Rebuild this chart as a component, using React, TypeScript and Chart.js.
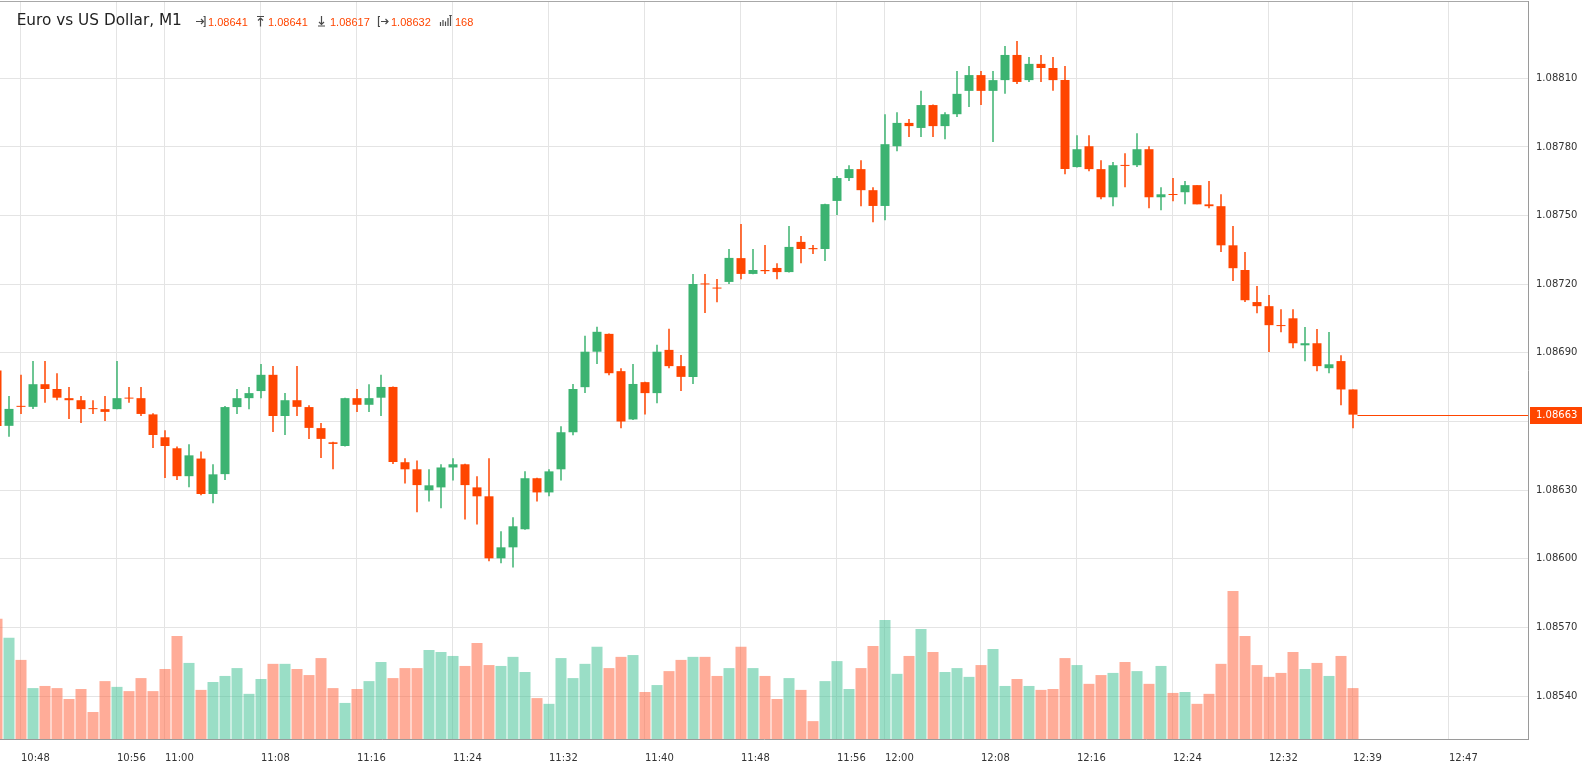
import { useEffect, useRef } from "react";
import { Chart, registerables } from "chart.js";

Chart.register(...registerables);

// ---------- data ----------
const TIMES = [
  "10:46","10:47","10:48","10:49","10:50","10:51","10:52","10:53","10:54","10:55",
  "10:56","10:57","10:58","10:59","11:00","11:01","11:02","11:03","11:04","11:05",
  "11:06","11:07","11:08","11:09","11:10","11:11","11:12","11:13","11:14","11:15",
  "11:16","11:17","11:18","11:19","11:20","11:21","11:22","11:23","11:24","11:25",
  "11:26","11:27","11:28","11:29","11:30","11:31","11:32","11:33","11:34","11:35",
  "11:36","11:37","11:38","11:39","11:40","11:41","11:42","11:43","11:44","11:45",
  "11:46","11:47","11:48","11:49","11:50","11:51","11:52","11:53","11:54","11:55",
  "11:56","11:57","11:58","11:59","12:00","12:01","12:02","12:03","12:04","12:05",
  "12:06","12:07","12:08","12:09","12:10","12:11","12:12","12:13","12:14","12:15",
  "12:16","12:17","12:18","12:19","12:20","12:21","12:22","12:23","12:24","12:25",
  "12:26","12:27","12:28","12:29","12:30","12:31","12:32","12:33","12:34","12:35",
  "12:36","12:37","12:38","12:39",
];

const OPEN = [
  1.086823,1.086581,1.086666,1.086664,1.086763,1.086742,1.086702,1.086693,1.086656,1.086654,
  1.086654,1.086702,1.086702,1.086631,1.086531,1.086483,1.086361,1.086438,1.086283,1.086370,
  1.086663,1.086702,1.086733,1.086804,1.086624,1.086693,1.086663,1.086571,1.086509,1.086493,
  1.086702,1.086673,1.086704,1.086751,1.086422,1.086391,1.086299,1.086312,1.086399,1.086413,
  1.086312,1.086273,1.086002,1.086050,1.086129,1.086352,1.086290,1.086391,1.086553,1.086750,
  1.086905,1.086983,1.086820,1.086609,1.086772,1.086724,1.086913,1.086842,1.086795,1.087203,
  1.087185,1.087210,1.087314,1.087245,1.087262,1.087271,1.087253,1.087385,1.087358,1.087354,
  1.087564,1.087664,1.087703,1.087611,1.087542,1.087803,1.087905,1.087883,1.087983,1.087891,
  1.087943,1.088045,1.088114,1.088045,1.088092,1.088202,1.088092,1.088163,1.088145,1.088092,
  1.087712,1.087803,1.087703,1.087580,1.087720,1.087720,1.087790,1.087580,1.087593,1.087602,
  1.087633,1.087549,1.087541,1.087370,1.087262,1.087122,1.087104,1.087021,1.087051,1.086933,
  1.086942,1.086833,1.086864,1.086740,
];

const HIGH = [
  1.086833,1.086711,1.086804,1.086864,1.086864,1.086811,1.086751,1.086711,1.086693,1.086711,
  1.086864,1.086751,1.086751,1.086636,1.086562,1.086491,1.086500,1.086469,1.086413,1.086668,
  1.086742,1.086751,1.086851,1.086842,1.086724,1.086842,1.086671,1.086593,1.086512,1.086704,
  1.086742,1.086763,1.086804,1.086753,1.086439,1.086430,1.086391,1.086413,1.086439,1.086415,
  1.086361,1.086439,1.086120,1.086181,1.086382,1.086354,1.086391,1.086579,1.086764,1.086975,
  1.087014,1.086985,1.086833,1.086851,1.086774,1.086935,1.087005,1.086891,1.087245,1.087245,
  1.087223,1.087354,1.087463,1.087354,1.087371,1.087292,1.087454,1.087411,1.087371,1.087552,
  1.087673,1.087720,1.087742,1.087624,1.087943,1.087952,1.087922,1.088045,1.087985,1.087952,
  1.088132,1.088154,1.088132,1.088132,1.088241,1.088263,1.088193,1.088202,1.088193,1.088154,
  1.087851,1.087851,1.087742,1.087734,1.087772,1.087860,1.087803,1.087624,1.087664,1.087651,
  1.087633,1.087651,1.087593,1.087454,1.087341,1.087192,1.087153,1.087091,1.087091,1.087013,
  1.087004,1.086991,1.086890,1.086740,
];

const LOW = [
  1.086570,1.086533,1.086633,1.086655,1.086682,1.086693,1.086611,1.086593,1.086633,1.086602,
  1.086654,1.086682,1.086624,1.086484,1.086353,1.086344,1.086313,1.086278,1.086243,1.086344,
  1.086633,1.086654,1.086702,1.086554,1.086541,1.086624,1.086524,1.086440,1.086391,1.086491,
  1.086642,1.086642,1.086624,1.086414,1.086329,1.086203,1.086250,1.086221,1.086342,1.086172,
  1.086150,1.085989,1.085980,1.085962,1.086127,1.086250,1.086273,1.086342,1.086540,1.086724,
  1.086851,1.086802,1.086570,1.086607,1.086631,1.086680,1.086833,1.086733,1.086764,1.087074,
  1.087121,1.087201,1.087222,1.087243,1.087245,1.087222,1.087251,1.087292,1.087332,1.087301,
  1.087502,1.087651,1.087541,1.087471,1.087480,1.087781,1.087843,1.087843,1.087843,1.087834,
  1.087931,1.087974,1.087983,1.087821,1.088032,1.088075,1.088084,1.088084,1.088045,1.087681,
  1.087710,1.087694,1.087571,1.087541,1.087624,1.087712,1.087532,1.087523,1.087563,1.087549,
  1.087549,1.087532,1.087341,1.087214,1.087122,1.087073,1.086904,1.086990,1.086920,1.086863,
  1.086820,1.086811,1.086671,1.086570,
];

const CLOSE = [
  1.086580,1.086655,1.086664,1.086763,1.086742,1.086704,1.086693,1.086654,1.086654,1.086642,
  1.086702,1.086700,1.086633,1.086541,1.086493,1.086361,1.086452,1.086283,1.086369,1.086663,
  1.086702,1.086724,1.086804,1.086624,1.086693,1.086664,1.086572,1.086524,1.086502,1.086702,
  1.086673,1.086702,1.086751,1.086423,1.086391,1.086322,1.086321,1.086399,1.086413,1.086322,
  1.086273,1.086002,1.086050,1.086142,1.086352,1.086290,1.086382,1.086553,1.086742,1.086905,
  1.086992,1.086811,1.086600,1.086764,1.086724,1.086905,1.086842,1.086795,1.087201,1.087199,
  1.087181,1.087315,1.087245,1.087262,1.087257,1.087253,1.087363,1.087354,1.087353,1.087550,
  1.087664,1.087703,1.087611,1.087542,1.087812,1.087905,1.087891,1.087983,1.087891,1.087943,
  1.088032,1.088114,1.088045,1.088092,1.088202,1.088084,1.088163,1.088145,1.088092,1.087703,
  1.087790,1.087703,1.087580,1.087720,1.087717,1.087790,1.087580,1.087593,1.087590,1.087633,
  1.087549,1.087541,1.087370,1.087270,1.087130,1.087104,1.087021,1.087017,1.086942,1.086942,
  1.086842,1.086850,1.086740,1.086630,
];

const VOLUME = [
  397,334,261,168,175,168,132,165,89,191,
  172,158,201,158,231,340,251,162,188,208,
  234,149,198,248,248,231,211,267,168,119,
  165,191,254,201,234,234,294,287,274,241,
  317,244,241,271,221,135,116,267,201,248,
  304,234,271,277,155,178,224,261,271,271,
  208,234,304,234,208,132,201,162,59,191,
  257,165,234,307,393,215,274,363,287,221,
  234,205,244,297,175,198,175,162,165,267,
  244,182,211,218,254,224,182,241,152,155,
  116,149,248,488,340,244,205,218,287,231,
  251,208,274,168,
];

const X_TICK_LABELS = [
  "10:48","10:56","11:00","11:08","11:16","11:24","11:32","11:40","11:48",
  "11:56","12:00","12:08","12:16","12:24","12:32","12:39","12:47",
];

const PRICE_TICKS = [1.0854, 1.0857, 1.086, 1.0863, 1.0866, 1.0869, 1.0872, 1.0875, 1.0878, 1.0881];

const LAST_PRICE = 1.08663;
const TITLE = "Euro vs US Dollar, M1";
const HEADER_OPEN = "1.08641";
const HEADER_HIGH = "1.08641";
const HEADER_LOW = "1.08617";
const HEADER_CLOSE = "1.08632";
const HEADER_VOLUME = "168";

// ---------- styles ----------
const UP = "#3cb371";
const DOWN = "#ff4500";
const UP_VOL = "rgba(71,195,151,0.55)";
const DOWN_VOL = "rgba(255,104,68,0.55)";
const GRID = "#e4e4e4";
const AXIS = "#9a9a9a";
const TEXT = "#333333";
const FONT = "DejaVu Sans";

const toMin = (t: string) => {
  const [h, m] = t.split(":").map(Number);
  return h * 60 + m;
};

const lastPricePlugin = {
  id: "lastPrice",
  afterDatasetsDraw(chart: any) {
    const { ctx, chartArea, scales } = chart;
    const y = Math.round(scales.y.getPixelForValue(LAST_PRICE)) + 0.5;
    const lastX = scales.x.getPixelForValue(toMin(TIMES[TIMES.length - 1])) + 4.5;
    ctx.save();
    ctx.strokeStyle = DOWN;
    ctx.lineWidth = 1;
    ctx.beginPath();
    ctx.moveTo(lastX, y);
    ctx.lineTo(chartArea.right, y);
    ctx.stroke();
    ctx.restore();
  },
  afterDraw(chart: any) {
    const { ctx, chartArea, scales, width } = chart;
    const y = Math.round(scales.y.getPixelForValue(LAST_PRICE)) + 0.5;
    ctx.save();
    // top border
    ctx.strokeStyle = "#a8a8a8";
    ctx.lineWidth = 1;
    ctx.beginPath();
    ctx.moveTo(0, 1.5);
    ctx.lineTo(chartArea.right, 1.5);
    ctx.stroke();
    // price label
    ctx.fillStyle = DOWN;
    ctx.fillRect(chartArea.right + 2, y - 8.5, width - chartArea.right - 2, 17);
    ctx.fillStyle = "#ffffff";
    ctx.font = `10px "${FONT}"`;
    ctx.textAlign = "left";
    ctx.textBaseline = "middle";
    ctx.fillText(LAST_PRICE.toFixed(5), chartArea.right + 8, y);
    ctx.restore();
  },
};

const iconStyle = (left: number, top: number, w: number, h: number): any => ({
  position: "absolute",
  left,
  top,
  width: w,
  height: h,
});

const valueStyle = (left: number): any => ({
  position: "absolute",
  left,
  top: 16.7,
  fontFamily: "Liberation Sans",
  fontSize: 11,
  lineHeight: "11px",
  color: DOWN,
  whiteSpace: "nowrap",
});

export default function App() {
  const canvasRef = useRef<HTMLCanvasElement | null>(null);

  useEffect(() => {
    const canvas = canvasRef.current;
    if (!canvas) return;
    const xs = TIMES.map(toMin);
    const up = OPEN.map((o, i) => CLOSE[i] >= o);
    const xMin = toMin(X_TICK_LABELS[0]) - 1.75;
    const xMax = toMin(X_TICK_LABELS[0]) + 1507 / 12;

    const chart = new Chart(canvas, {
      type: "bar",
      data: {
        datasets: [
          {
            label: "body",
            data: xs.map((x, i) => ({ x, y: [OPEN[i], CLOSE[i]] })) as any,
            backgroundColor: up.map((u) => (u ? UP : DOWN)),
            barThickness: 9,
            minBarLength: 1,
            borderWidth: 0,
            inflateAmount: 0,
            grouped: false,
            yAxisID: "y",
            order: 0,
          } as any,
          {
            label: "wick",
            data: xs.map((x, i) => ({ x, y: [LOW[i], HIGH[i]] })) as any,
            backgroundColor: up.map((u) => (u ? UP : DOWN)),
            barThickness: 1.5,
            borderWidth: 0,
            inflateAmount: 0,
            grouped: false,
            yAxisID: "y",
            order: 1,
          } as any,
          {
            label: "volume",
            data: xs.map((x, i) => ({ x, y: VOLUME[i] })) as any,
            backgroundColor: up.map((u) => (u ? UP_VOL : DOWN_VOL)),
            barThickness: 11,
            borderWidth: 0,
            inflateAmount: 0,
            grouped: false,
            yAxisID: "yv",
            order: 2,
          } as any,
        ],
      },
      options: {
        animation: false,
        responsive: false,
        layout: { padding: { top: 1, left: 0, right: 0, bottom: 0 } },
        plugins: {
          legend: { display: false },
          tooltip: { enabled: false },
        },
        scales: {
          x: {
            type: "linear",
            min: xMin,
            max: xMax,
            bounds: "data",
            offset: false,
            grid: { color: GRID, offset: false, drawTicks: false },
            border: { color: AXIS },
            ticks: {
              autoSkip: false,
              maxRotation: 0,
              align: "start",
              padding: 13,
              color: TEXT,
              font: { family: FONT, size: 10 },
              callback: (_v: any, i: number) => X_TICK_LABELS[i],
            },
            afterBuildTicks: (s: any) => {
              s.ticks = X_TICK_LABELS.map((l) => ({ value: toMin(l) }));
            },
            afterFit: (s: any) => {
              s.height = 35;
              s.paddingLeft = 0;
              s.paddingRight = 0;
            },
          } as any,
          y: {
            type: "linear",
            position: "right",
            min: 1.0852123,
            max: 1.0884378,
            bounds: "data",
            grid: { color: GRID, drawTicks: false },
            border: { color: AXIS },
            ticks: {
              padding: 8,
              color: TEXT,
              font: { family: FONT, size: 10 },
              callback: (v: any) => Number(v).toFixed(5),
            },
            afterBuildTicks: (s: any) => {
              s.ticks = PRICE_TICKS.map((v) => ({ value: v }));
            },
            afterFit: (s: any) => {
              s.width = 54;
              s.paddingTop = 0;
              s.paddingBottom = 0;
            },
          } as any,
          yv: {
            type: "linear",
            display: false,
            min: 0,
            max: 2435,
          } as any,
        },
      },
      plugins: [lastPricePlugin],
    });
    return () => chart.destroy();
  }, []);

  const stroke = { stroke: "#4a4a4a", strokeWidth: 1.2, fill: "none" } as any;

  return (
    <div
      style={{
        position: "absolute",
        left: 0,
        top: 0,
        width: 1582,
        height: 774,
        background: "#ffffff",
        overflow: "hidden",
      }}
    >
      <canvas ref={canvasRef} width={1582} height={774} style={{ display: "block" }} />
      <span
        style={{
          position: "absolute",
          left: 16.7,
          top: 13.1,
          fontFamily: FONT,
          fontSize: 15.3,
          lineHeight: "15.3px",
          color: "#222222",
          whiteSpace: "nowrap",
        }}
      >
        {TITLE}
      </span>
      <svg style={iconStyle(195, 15, 11, 12)} viewBox="0 0 11 12">
        <path d="M1 6.5 H8.5 M6 4 L8.5 6.5 L6 9" {...stroke} />
        <path d="M8.5 1.5 H10 V11.5 H8.5" {...stroke} />
      </svg>
      <span style={valueStyle(208)}>{HEADER_OPEN}</span>
      <svg style={iconStyle(256, 15, 9, 12)} viewBox="0 0 9 12">
        <path d="M1 1.5 H8 M4.5 11.5 V3 M2 5.5 L4.5 3 L7 5.5" {...stroke} />
      </svg>
      <span style={valueStyle(268)}>{HEADER_HIGH}</span>
      <svg style={iconStyle(317, 15, 9, 12)} viewBox="0 0 9 12">
        <path d="M1 11 H8 M4.5 1 V9.5 M2 7 L4.5 9.5 L7 7" {...stroke} />
      </svg>
      <span style={valueStyle(330)}>{HEADER_LOW}</span>
      <svg style={iconStyle(377, 15, 12, 12)} viewBox="0 0 12 12">
        <path d="M3 1.5 H1.5 V11.5 H3" {...stroke} />
        <path d="M4 6.5 H11 M8.5 4 L11 6.5 L8.5 9" {...stroke} />
      </svg>
      <span style={valueStyle(391)}>{HEADER_CLOSE}</span>
      <svg style={iconStyle(439, 14, 14, 13)} viewBox="0 0 14 13">
        <path
          d="M1.5 12 V8 M4 12 V6 M6.5 12 V7.5 M9 12 V4 M11.5 12 V2 M10.2 1.5 H12.8"
          {...stroke}
        />
      </svg>
      <span style={valueStyle(455)}>{HEADER_VOLUME}</span>
    </div>
  );
}
